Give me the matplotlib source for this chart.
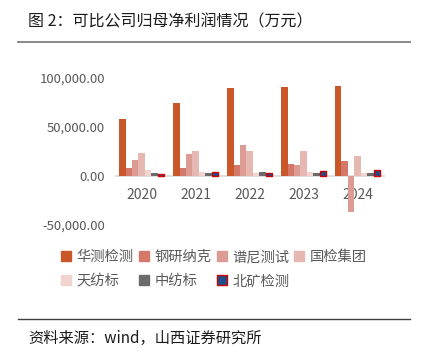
import matplotlib
matplotlib.use("Agg")
import matplotlib.pyplot as plt
from matplotlib.lines import Line2D
from matplotlib.ticker import FuncFormatter
import numpy as np

plt.rcParams['font.family'] = ['Noto Sans CJK SC', 'DejaVu Sans']

years = ["2020", "2021", "2022", "2023", "2024"]
companies = ["华测检测", "钢研纳克", "谱尼测试", "国检集团", "天纺标", "中纺标", "北矿检测"]
huace = [58000, 74500, 90000, 90800, 92200]
gangyan = [8000, 8500, 11600, 12600, 15000]
puni = [16700, 22000, 32000, 10900, -36700]
guojian = [23500, 25500, 25500, 25900, 20000]
tianfang = [5800, 3800, 3500, 4000, 3000]
zhongfang = [3500, 3500, 4000, 3500, 3500]
beikuang = [2400, 4000, 3500, 4800, 5800]
series = [huace, gangyan, puni, guojian, tianfang, zhongfang, beikuang]
colors = ["#C9572A", "#D4796A", "#DC9C94", "#E6B8B2", "#F2D3D0", "#6B6B6B", "#1F4E8A"]
edges = [None, None, None, None, None, None, "#D00000"]
yticks = [-50000, 0, 50000, 100000]

fig = plt.figure(figsize=(4.21, 3.56), dpi=100)
ax = fig.add_axes([0.2724, 0.368, 0.641, 0.413])

x = np.arange(len(years))
bw = 0.119
n = len(series)
handles = []
for i, (vals, c, e) in enumerate(zip(series, colors, edges)):
    off = (i - (n - 1) / 2) * bw
    kw = dict(color=c, width=bw, zorder=3)
    if e:
        kw.update(edgecolor=e, linewidth=1.0)
    ax.bar(x + off, vals, **kw)
    if e:
        h = Line2D([], [], marker='s', linestyle='none', markersize=7.5,
                   markerfacecolor=c, markeredgecolor=e, markeredgewidth=1.0)
    else:
        h = Line2D([], [], marker='s', linestyle='none', markersize=7.5,
                   markerfacecolor=c, markeredgecolor=c)
    handles.append(h)

ax.set_xlim(-0.5, len(years) - 0.5)
ax.set_ylim(-50000, 100000)
ax.set_yticks(yticks)
ax.yaxis.set_major_formatter(FuncFormatter(lambda v, p: f"{v:,.2f}"))
ax.tick_params(axis='y', length=0, pad=7, labelsize=9.5, labelcolor="#595959")
ax.set_xticks([])
for s in ax.spines.values():
    s.set_visible(False)
ax.axhline(0, color="#D9D9D9", linewidth=1.2, zorder=2)
for xi, lab in zip(x, years):
    ax.annotate(lab, (xi, 0), xytext=(0, -8.5), textcoords='offset points',
                ha='center', va='top', fontsize=10, color="#595959", zorder=1)

order = [0, 4, 1, 5, 2, 6, 3]
fig.legend([handles[k] for k in order], [companies[k] for k in order],
           loc='upper left', bbox_to_anchor=(0.145, 0.297),
           ncol=4, frameon=False, fontsize=10.3, handlelength=0.7, handleheight=0.7,
           handletextpad=0.4, columnspacing=0.35, labelspacing=0.7,
           borderaxespad=0, borderpad=0, labelcolor="#595959")

fig.text(28 / 421, 1 - 22 / 356, "图 2：可比公司归母净利润情况（万元）", fontsize=11.5,
         ha='left', va='center', color="#1a1a1a")
fig.add_artist(Line2D([18 / 421, 410 / 421], [1 - 42 / 356, 1 - 42 / 356],
                      color="#7f7f7f", linewidth=1.3))
fig.add_artist(Line2D([18 / 421, 410 / 421], [1 - 319 / 356, 1 - 319 / 356],
                      color="#3f3f3f", linewidth=1.0))
fig.text(28 / 421, 1 - 338 / 356, "资料来源：wind，山西证券研究所", fontsize=11,
         ha='left', va='center', color="#1a1a1a")

fig.savefig("out.png", dpi=100)
